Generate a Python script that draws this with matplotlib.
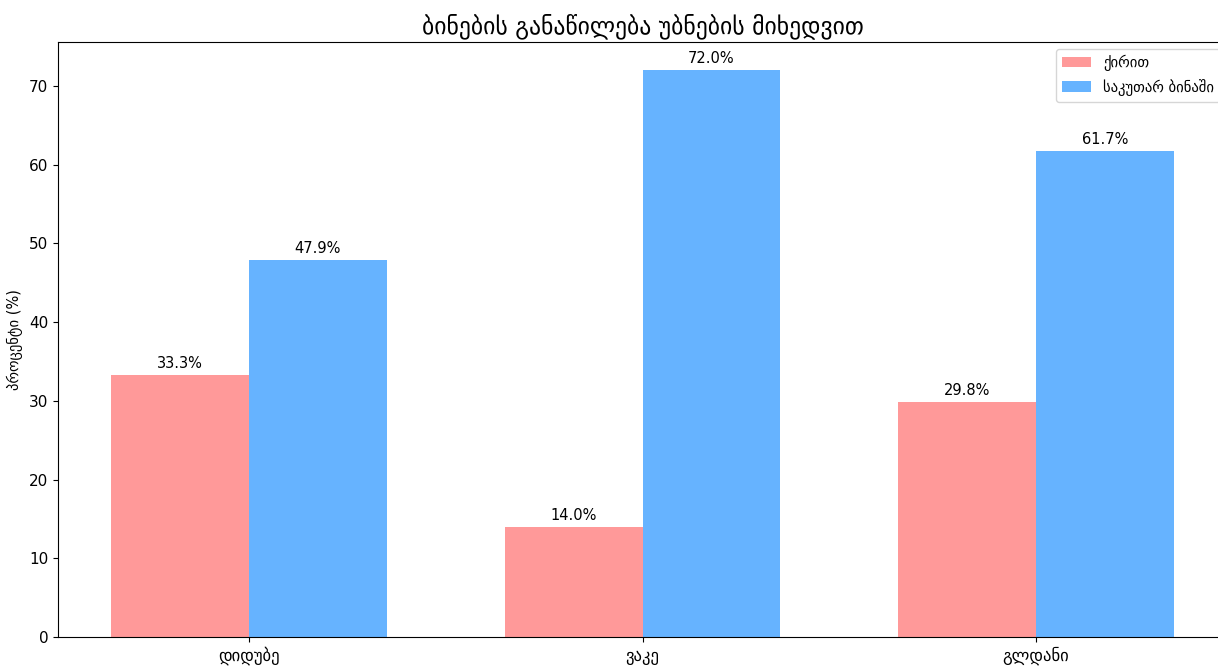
import numpy as np
import matplotlib
matplotlib.use('Agg')
import matplotlib.pyplot as plt

plt.rcParams['font.family'] = ['DejaVu Sans']

ubnebi = ['დიდუბე', 'ვაკე', 'გლდანი']
qirit = [33.3, 14.0, 29.8]
sakutar = [47.9, 72.0, 61.7]

x = np.arange(len(ubnebi))
w = 0.35

fig = plt.figure(figsize=(12.18, 6.68), dpi=100)
ax = fig.add_axes([58/1218, 1 - 637/668, (1227 - 58)/1218, (637 - 42)/668])

b1 = ax.bar(x - w/2, qirit, w, color='#ff9999', label='ქირით')
b2 = ax.bar(x + w/2, sakutar, w, color='#66b3ff', label='საკუთარ ბინაში')

# წარწერები სვეტებზე
for bars in (b1, b2):
    for b in bars:
        h = b.get_height()
        ax.annotate('%.1f%%' % h, (b.get_x() + b.get_width()/2, h),
                    xytext=(0, 3), textcoords='offset points',
                    ha='center', va='bottom', fontsize=10.5)

ax.set_xticks(x)
ax.set_xticklabels(ubnebi, fontsize=12)
ax.tick_params(axis='y', labelsize=11)
ax.set_ylabel('პროცენტი (%)', fontsize=10.5)
ax.set_title('ბინების განაწილება უბნების მიხედვით', fontsize=17)
ax.legend(loc='upper right', fontsize=10.5)

plt.savefig('out.png', dpi=100)
